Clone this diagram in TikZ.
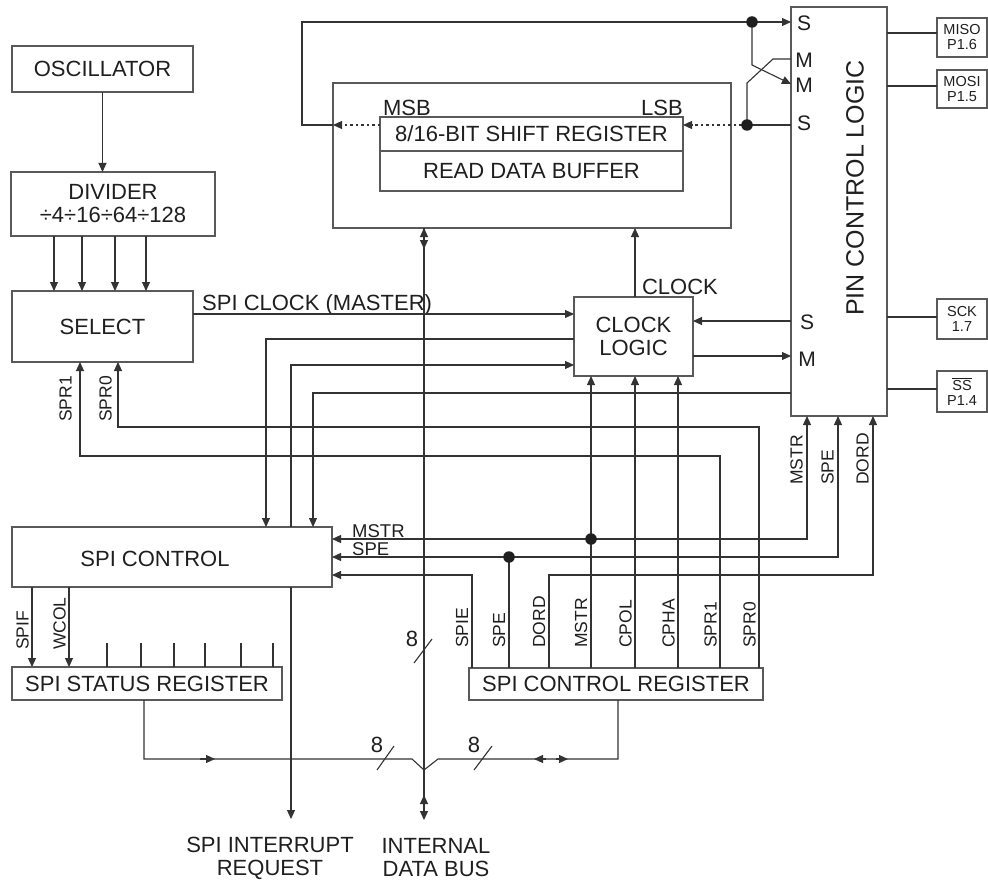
\documentclass[tikz,border=0pt]{standalone}
\usepackage{fontspec}
\setmainfont{Liberation Sans}
\usetikzlibrary{arrows.meta}
\newcommand\FMain{\fontsize{22}{23}\selectfont}
\newcommand\FBig{\fontsize{25}{25}\selectfont}
\newcommand\FLab{\fontsize{17.5}{17.5}\selectfont}
\newcommand\FPin{\fontsize{14.5}{15}\selectfont}
\newcommand\FSM{\fontsize{21}{21}\selectfont}
\newcommand\ovl[1]{$\overline{\mbox{#1}}$}
\begin{document}
\begin{tikzpicture}[x=1pt,y=-1pt,
  box/.style={draw=black!65, line width=1.1pt, inner sep=0pt, outer sep=0pt, anchor=north west, align=center, font=\FMain, text=black!88},
  wire/.style={draw=black!80, line width=1.1pt},
  arr/.style={wire, -{Triangle[length=9pt,width=8pt]}},
  dotline/.style={wire, dash pattern=on 2.5pt off 3pt, -{Triangle[length=9pt,width=8pt]}},
  dotn/.style={circle, fill=black!88, inner sep=0pt, minimum size=11.5pt},
  txt/.style={font=\FMain, inner sep=0pt, text=black!88, align=center},
  lab/.style={font=\FLab, inner sep=0pt, text=black!88},
  rlab/.style={lab, rotate=90, anchor=south west},
  pinl/.style={font=\FSM, inner sep=0pt, text=black!88},
]
\useasboundingbox (0,0) rectangle (988,880);
\fill[white] (0,0) rectangle (988,880);

% ---- boxes
\node[box, minimum width=181pt, minimum height=46pt] (osc) at (12,46) {OSCILLATOR};
\node[box, minimum width=204pt, minimum height=64pt] (div) at (11,172) {DIVIDER\\÷4÷16÷64÷128};
\node[box, minimum width=181pt, minimum height=71pt] (sel) at (12,291) {SELECT};
\node[box, minimum width=398pt, minimum height=145pt] (outer) at (333,83) {};
\node[box, minimum width=303pt, minimum height=34pt] (shift) at (380,117) {8/16-BIT SHIFT REGISTER};
\node[box, minimum width=303pt, minimum height=40pt] (rdb) at (380,151) {READ DATA BUFFER};
\node[txt] (msb) at (407,108) {MSB};
\node[txt] (lsb) at (662,108) {LSB};
\node[box, minimum width=96pt, minimum height=409pt] (pin) at (791,7) {};
\node[txt, font=\FBig, rotate=90] (pinlbl) at (855,188) {PIN CONTROL LOGIC};
\node[pinl] (ps1) at (804,23) {S};
\node[pinl] (pm1) at (804,60) {M};
\node[pinl] (pm2) at (804,85) {M};
\node[pinl] (ps2) at (804,123) {S};
\node[pinl] (ps3) at (807,322) {S};
\node[pinl] (pm3) at (807,359) {M};
\node[box, font=\FPin, minimum width=50pt, minimum height=39pt] (miso) at (937,18) {MISO\\P1.6};
\node[box, font=\FPin, minimum width=50pt, minimum height=38pt] (mosi) at (937,70) {MOSI\\P1.5};
\node[box, font=\FPin, minimum width=50pt, minimum height=40pt] (sck) at (937,299) {SCK\\1.7};
\node[box, font=\FPin, minimum width=50pt, minimum height=41pt] (ss) at (937,371) {\ovl{SS}\\P1.4};
\node[box, minimum width=119pt, minimum height=79pt] (clk) at (574,297) {CLOCK\\LOGIC};
\node[txt] (clklbl) at (680,287) {CLOCK};
\node[box, minimum width=320pt, minimum height=60pt] (spictl) at (12,527) {};
\node[txt] (spictltxt) at (155,559) {SPI CONTROL};
\node[box, minimum width=270pt, minimum height=33pt] (stat) at (12,667) {SPI STATUS REGISTER};
\node[box, minimum width=294pt, minimum height=32pt] (ctlreg) at (469,668) {SPI CONTROL REGISTER};

% ---- labels
\node[txt, anchor=base west] (lspiclk) at (202,310) {SPI CLOCK (MASTER)};
\node[lab, anchor=base west, font=\fontsize{18.5}{18.5}\selectfont] (lmstr) at (352,537) {MSTR};
\node[lab, anchor=base west, font=\fontsize{18.5}{18.5}\selectfont] (lspe) at (352,555) {SPE};
\node[txt] (lirq) at (270,858) {SPI INTERRUPT\\REQUEST};
\node[txt] (lbus) at (436,858) {INTERNAL\\DATA BUS};
\node[txt] (n8a) at (412,639) {8};
\node[txt] (n8b) at (377,745) {8};
\node[txt] (n8c) at (474,745) {8};

\node[rlab] (r1) at (468.5,648) {SPIE};
\node[rlab] (r2) at (505.5,648) {SPE};
\node[rlab] (r3) at (545.5,648) {DORD};
\node[rlab] (r4) at (587.5,648) {MSTR};
\node[rlab] (r5) at (632,648) {CPOL};
\node[rlab] (r6) at (675,648) {CPHA};
\node[rlab] (r7) at (717,648) {SPR1};
\node[rlab] (r8) at (756,648) {SPR0};
\node[rlab] (p1) at (803,485) {MSTR};
\node[rlab] (p2) at (834,485) {SPE};
\node[rlab] (p3) at (869,485) {DORD};
\node[rlab] (s1) at (29,650) {SPIF};
\node[rlab] (s2) at (66,650) {WCOL};
\node[rlab] (q1) at (72,422) {SPR1};
\node[rlab] (q2) at (112,422) {SPR0};

% ---- coordinates
\coordinate (busJ) at (424,770);
\coordinate (busEnd) at (424,820);
\coordinate (irq) at (291,819);
\coordinate (tdot) at (752,22);
\coordinate (ldot) at (747,125);
\coordinate (mstrd) at (591,539);
\coordinate (sped) at (509,557);
\coordinate (dordc) at (873,575);
\coordinate (spr1c) at (80,456);
\coordinate (spr0c) at (118,427);

% ---- connectors
\draw[arr] (osc.south) -- (div.north -| osc.south);
\foreach \x in {54,82,115,146} \draw[arr] (div.south -| \x,0) -- (sel.north -| \x,0);
\draw[arr] (sel.east |- 0,314) -- (clk.west |- 0,314);
\draw[arr] (clk.west |- 0,339) -| (spictl.north -| 266,0);
\draw[arr] (spictl.north -| 291,0) |- (clk.west |- 0,365);
\draw[arr] (pin.west |- 0,393) -| (spictl.north -| 313,0);
\draw[arr] (clk.north -| 635,0) -- (outer.south -| 635,0);
\draw[arr] (pin.west |- 0,321) -- (clk.east |- 0,321);
\draw[arr] (clk.east |- 0,356) -- (pin.west |- 0,356);

\draw[arr] (ctlreg.north -| 720,0) |- (spr1c) -- (sel.south -| spr1c);
\draw[arr] (ctlreg.north -| 759,0) |- (spr0c) -- (sel.south -| spr0c);
\draw[arr] (ctlreg.north -| mstrd) -- (clk.south -| mstrd);
\draw[arr] (mstrd) -| (pin.south -| 807,0);
\draw[arr] (mstrd) -- (spictl.east |- mstrd);
\draw[wire] (ctlreg.north -| sped) -- (sped);
\draw[arr] (sped) -| (pin.south -| 838,0);
\draw[arr] (sped) -- (spictl.east |- sped);
\draw[arr] (ctlreg.north -| 472,0) |- (spictl.east |- 0,575);
\draw[arr] (ctlreg.north -| 549,0) |- (dordc) -- (pin.south -| dordc);
\draw[arr] (ctlreg.north -| 635,0) -- (clk.south -| 635,0);
\draw[arr] (ctlreg.north -| 678,0) -- (clk.south -| 678,0);
\node[dotn] (d1) at (mstrd) {};
\node[dotn] (d2) at (sped) {};

\draw[arr] (spictl.south -| 32,0) -- (stat.north -| 32,0);
\draw[arr] (spictl.south -| 69,0) -- (stat.north -| 69,0);
\foreach \x in {107,141,174,205,241,273} \draw[wire] (stat.north -| \x,0) -- (\x,643);
\draw[arr] (spictl.south -| irq) -- (irq);

% bus
\draw[wire] (outer.south -| busJ) -- (busJ);
\draw[arr] (424,240) -- (outer.south -| busJ);
\draw[arr] (424,237) -- (424,249);
\draw[arr] (busJ) -- (busEnd);
\draw[arr] (424,806) -- (424,795);
\draw[wire] (stat.south -| 144,0) |- (412,759) -- (busJ);
\draw[arr] (200,759) -- (215,759);
\draw[wire] (ctlreg.south -| 618,0) |- (438,759) -- (busJ);
\draw[arr] (546,759) -- (534,759);
\draw[arr] (556,759) -- (568,759);
\draw[wire] (377,770) -- (394,746);
\draw[wire] (474,770) -- (492,746);
\draw[wire] (414,663) -- (432,639);

% shift register loops
\draw[arr] (tdot) -- (pin.west |- tdot);
\draw[wire] (tdot) -- (302,22) -- (302,125) -- (outer.west |- 0,125);
\draw[dotline] (shift.west |- 0,125) -- (outer.west |- 0,125);
\draw[wire] (pin.west |- ldot) -- (ldot);
\draw[dotline] (ldot) -- (shift.east |- ldot);
\draw[wire] (ldot) -- (747,83) -- (773,59) -- (pin.west |- 0,59);
\draw[arr] (tdot) -- (752,65) -- (pin.west |- 0,84);
\node[dotn] (d3) at (tdot) {};
\node[dotn] (d4) at (ldot) {};

% pins
\draw[wire] (pin.east |- 0,33) -- (miso.west |- 0,33);
\draw[wire] (pin.east |- 0,86) -- (mosi.west |- 0,86);
\draw[wire] (pin.east |- 0,317) -- (sck.west |- 0,317);
\draw[wire] (pin.east |- 0,389) -- (ss.west |- 0,389);
\end{tikzpicture}
\end{document}
